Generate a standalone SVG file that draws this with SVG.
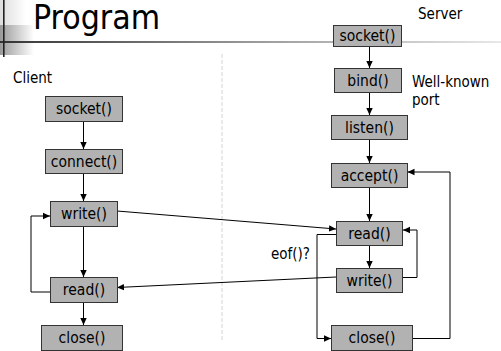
<svg xmlns="http://www.w3.org/2000/svg" width="501" height="351" viewBox="0 0 501 351">
<defs>
<style>
text{font-family:"DejaVu Sans Condensed","DejaVu Sans",sans-serif;fill:#000}
.lbl{font-size:15.5px;text-anchor:middle}
.side{font-size:15px}
.box{fill:#b2b2b2;stroke:#333;stroke-width:1}
.c{fill:none;stroke:#000;stroke-width:1}
</style>
<marker id="ah" markerUnits="userSpaceOnUse" markerWidth="8" markerHeight="8" refX="7" refY="4" orient="auto"><path d="M0,0.8 L7,4 L0,7.2 Z" fill="#000"/></marker>
<linearGradient id="hl" x1="0" x2="1" y1="0" y2="0"><stop offset="0" stop-color="#333"/><stop offset="0.5" stop-color="#999"/><stop offset="1" stop-color="#e8e8e8"/></linearGradient>
<linearGradient id="gb" x1="0" x2="1" y1="0" y2="0"><stop offset="0" stop-color="#999"/><stop offset="1" stop-color="#fff"/></linearGradient>
<linearGradient id="gt" x1="0" x2="1" y1="0" y2="0"><stop offset="0" stop-color="#ddd"/><stop offset="1" stop-color="#fff"/></linearGradient>
</defs>
<g id="header">
<rect x="0" y="0" width="26" height="25" fill="url(#gt)"/>
<rect x="0" y="25" width="34" height="30" fill="url(#gb)"/>
<rect x="0" y="41" width="501" height="2" fill="url(#hl)"/>
<rect x="3" y="0" width="1.6" height="57" fill="#222"/>
<text x="33" y="29" style="font-size:33.5px">Program</text>
</g>
<line x1="222" y1="54" x2="222" y2="341" stroke="#d4d4d4" stroke-width="1" stroke-dasharray="4,2"/>
<text class="side" x="13" y="83">Client</text>
<text class="side" x="418" y="19">Server</text>
<text class="side" x="412" y="87">Well-known</text>
<text class="side" x="412" y="105">port</text>
<text class="side" x="271" y="259">eof()?</text>
<g id="connectors">
<line class="c" x1="83.5" y1="121" x2="83.5" y2="149" marker-end="url(#ah)"/>
<line class="c" x1="83.5" y1="173" x2="83.5" y2="201" marker-end="url(#ah)"/>
<line class="c" x1="83.5" y1="226" x2="83.5" y2="277" marker-end="url(#ah)"/>
<line class="c" x1="83.5" y1="302" x2="83.5" y2="325" marker-end="url(#ah)"/>
<polyline class="c" points="50,292 31,292 31,216 50,216" marker-end="url(#ah)"/>
<line class="c" x1="117" y1="211" x2="336" y2="229" marker-end="url(#ah)"/>
<line class="c" x1="336" y1="277" x2="117" y2="287.5" marker-end="url(#ah)"/>
<line class="c" x1="369.5" y1="46" x2="369.5" y2="68" marker-end="url(#ah)"/>
<line class="c" x1="369.5" y1="92" x2="369.5" y2="115" marker-end="url(#ah)"/>
<line class="c" x1="369.5" y1="139" x2="369.5" y2="163" marker-end="url(#ah)"/>
<line class="c" x1="369.5" y1="187" x2="369.5" y2="221" marker-end="url(#ah)"/>
<line class="c" x1="369.5" y1="245" x2="369.5" y2="268" marker-end="url(#ah)"/>
<polyline class="c" points="336,234.5 317,234.5 317,338.5 331,338.5" marker-end="url(#ah)"/>
<polyline class="c" points="403,277.5 417,277.5 417,230 403,230" marker-end="url(#ah)"/>
<polyline class="c" points="413,338.5 450,338.5 450,172 407.5,172" marker-end="url(#ah)"/>
</g>
<g id="c-socket"><rect class="box" x="45.5" y="96.5" width="77" height="25"/><text class="lbl" x="84" y="114">socket()</text></g>
<g id="c-connect"><rect class="box" x="45.5" y="149.5" width="77" height="24"/><text class="lbl" x="84" y="167">connect()</text></g>
<g id="c-write"><rect class="box" x="50.5" y="201.5" width="67" height="25"/><text class="lbl" x="84" y="219">write()</text></g>
<g id="c-read"><rect class="box" x="50.5" y="277.5" width="67" height="25"/><text class="lbl" x="84" y="295">read()</text></g>
<g id="c-close"><rect class="box" x="41.5" y="325.5" width="81" height="25"/><text class="lbl" x="82" y="343">close()</text></g>
<g id="s-socket"><rect class="box" x="333.5" y="25.5" width="68" height="21"/><text class="lbl" x="367.5" y="41">socket()</text></g>
<g id="s-bind"><rect class="box" x="334.5" y="68.5" width="67" height="24"/><text class="lbl" x="368" y="86">bind()</text></g>
<g id="s-listen"><rect class="box" x="331.5" y="115.5" width="76" height="24"/><text class="lbl" x="369.5" y="133">listen()</text></g>
<g id="s-accept"><rect class="box" x="331.5" y="163.5" width="76" height="24"/><text class="lbl" x="369.5" y="181">accept()</text></g>
<g id="s-read"><rect class="box" x="336.5" y="221.5" width="66" height="24"/><text class="lbl" x="369.5" y="239">read()</text></g>
<g id="s-write"><rect class="box" x="336.5" y="268.5" width="66" height="24"/><text class="lbl" x="369.5" y="286">write()</text></g>
<g id="s-close"><rect class="box" x="331.5" y="325.5" width="81" height="25"/><text class="lbl" x="372" y="343">close()</text></g>
</svg>
